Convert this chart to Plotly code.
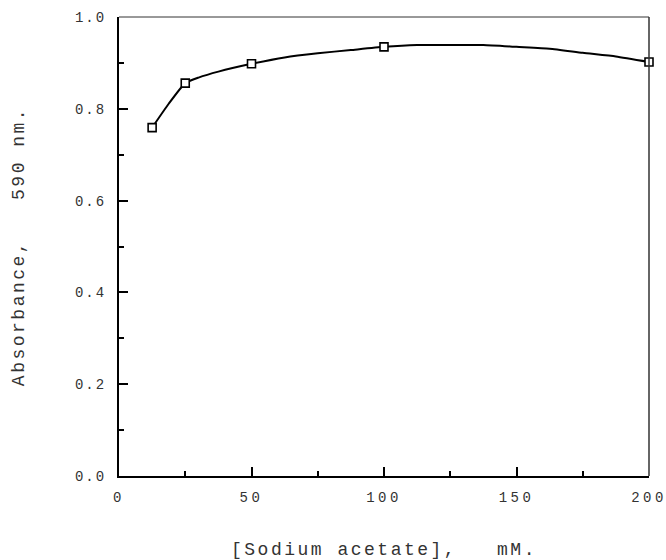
import plotly.graph_objects as go

# Measured points (open squares)
conc_mM = [12.5, 25, 50, 100, 200]
absorbance = [0.759, 0.856, 0.898, 0.935, 0.902]

# Fitted curve
curve_x = [12.5, 18.75, 25, 30, 37.5, 50, 62.5, 75, 87.5, 100, 112.5, 125, 137.5, 150, 162.5, 175, 187.5, 200]
curve_y = [0.759, 0.811, 0.856, 0.868, 0.881, 0.898, 0.912, 0.921, 0.928, 0.935, 0.939, 0.939, 0.939, 0.935, 0.931, 0.922, 0.914, 0.902]

x_tick_vals = [0, 50, 100, 150, 200]
x_tick_labels = ["0", "50", "100", "150", "200"]
y_tick_vals = [0.0, 0.2, 0.4, 0.6, 0.8, 1.0]
y_tick_labels = ["0.0", "0.2", "0.4", "0.6", "0.8", "1.0"]

x_title = "[Sodium acetate],\u00a0\u00a0\u00a0mM."
y_title = "Absorbance,\u00a0\u00a0\u00a0590 nm."

FONT = "Liberation Mono"


def spaced(t, px):
    return '<span style="letter-spacing:%spx">%s</span>' % (px, t)


fig = go.Figure()
fig.add_trace(go.Scatter(
    x=curve_x, y=curve_y, mode="lines",
    line=dict(color="black", width=2, shape="spline", smoothing=0.5),
    hoverinfo="skip", showlegend=False, cliponaxis=False,
))
fig.add_trace(go.Scatter(
    x=conc_mM, y=absorbance, mode="markers",
    marker=dict(symbol="square", size=8, color="white",
                line=dict(color="black", width=1.6)),
    showlegend=False, cliponaxis=False,
))

fig.update_layout(
    width=666, height=560,
    margin=dict(l=119, r=17, t=17, b=84, autoexpand=False),
    paper_bgcolor="white", plot_bgcolor="white",
    font=dict(family=FONT, color="#333333"),
    xaxis=dict(
        range=[0, 200], showgrid=False, zeroline=False, automargin=False,
        showline=True, linecolor="black", linewidth=2,
        ticks="inside", ticklen=9, tickwidth=2, tickcolor="black",
        tickvals=x_tick_vals, ticktext=[spaced(t, 3.5) for t in x_tick_labels],
        tickfont=dict(family=FONT, size=14, color="#333333"),
        ticklabelstandoff=7, ticklabeloverflow="allow",
        minor=dict(ticks="inside", ticklen=5, tickwidth=2, tickcolor="black", dtick=25),
        title=dict(text=spaced(x_title, 2.5), font=dict(family=FONT, size=18, color="#333333"), standoff=43),
    ),
    yaxis=dict(
        range=[0, 1.0], showgrid=False, zeroline=False, automargin=False,
        showline=True, linecolor="black", linewidth=2,
        ticks="inside", ticklen=9, tickwidth=2, tickcolor="black",
        tickvals=y_tick_vals, ticktext=[spaced(t, 2) for t in y_tick_labels],
        tickfont=dict(family=FONT, size=14, color="#333333"),
        ticklabelstandoff=8, ticklabeloverflow="allow",
        minor=dict(ticks="inside", ticklen=5, tickwidth=2, tickcolor="black", dtick=0.1),
        title=dict(text=spaced(y_title, 2.5), font=dict(family=FONT, size=18, color="#333333"), standoff=46),
    ),
    shapes=[
        dict(type="line", xref="paper", yref="paper", x0=0, x1=1, y0=1, y1=1,
             line=dict(color="#333333", width=1)),
        dict(type="line", xref="paper", yref="paper", x0=1, x1=1, y0=0, y1=1,
             line=dict(color="#333333", width=1.5)),
    ],
)

# remove the browser's default 8px body margin so the figure fills the window exactly
fig.write_html(
    "out.html",
    config={"displayModeBar": False},
    post_script="document.body.style.margin='0';document.body.style.overflow='hidden';",
)
